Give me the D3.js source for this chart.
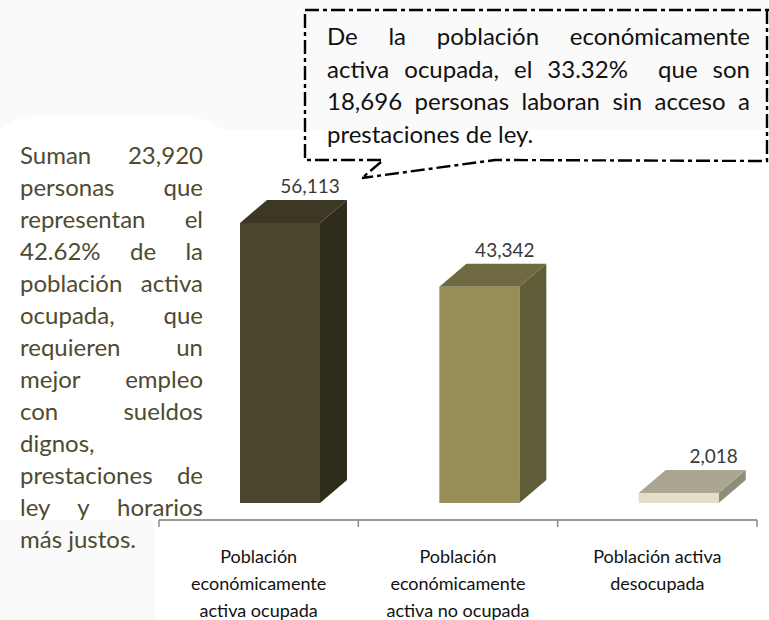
<!DOCTYPE html>
<html>
<head>
<meta charset="utf-8">
<script src="https://cdn.jsdelivr.net/npm/d3@7"></script>
<style>
  html, body { margin: 0; padding: 0; background: #fff; }
  svg { display: block; }
  text { font-family: Lato, "Open Sans", sans-serif; }
</style>
</head>
<body>
<div id="chart"></div>
<script>
// Chart values
const categories = ["ocupada", "no ocupada", "desocupada"];
const values = [56113, 43342, 2018];
const value_labels = ["56,113", "43,342", "2,018"];
const category_lines = [
  ["Población", "económicamente", "activa ocupada"],
  ["Población", "económicamente", "activa no ocupada"],
  ["Población activa", "desocupada"]
];
const front_colors = ["#4b452d", "#968d57", "#e3dec7"];
const top_colors = ["#3d3824", "#6f6a42", "#aaa692"];
const side_colors = ["#2f2c1b", "#615c38", "#8f8c77"];

// Notes around the chart
const left_note = [
  "Suman 23,920", "personas que", "representan el", "42.62% de la",
  "población activa", "ocupada, que", "requieren un", "mejor empleo",
  "con sueldos", "dignos,", "prestaciones de", "ley y horarios", "más justos."
];
const left_note_full = [true, true, true, true, true, true, true, true, true, false, true, true, false];
const box_note = [
  "De la población económicamente",
  "activa ocupada, el 33.32%  que son",
  "18,696 personas laboran sin acceso a",
  "prestaciones de ley."
];
const box_note_full = [true, true, true, false];

const width = 769, height = 620;
const svg = d3.select("#chart").append("svg")
  .attr("width", width)
  .attr("height", height);

// faint page background, the white panel behind the left note cuts into it
svg.append("rect").attr("width", width).attr("height", 130).attr("fill", "#fafafa");
svg.append("path")
  .attr("d", "M0,130Q14,116 36,116L188,116Q208,117 222,130Z")
  .attr("fill", "#fff");
svg.append("rect").attr("y", 520).attr("width", 155).attr("height", 100).attr("fill", "#fafafa");

// scales
const x = d3.scaleBand().domain(categories).range([159, 757]);
const y = d3.scaleLinear().domain([0, 56113]).range([503, 223]);

const bar_w = 80, depth_x = 27, depth_y = 23, bar_shift = 81;
// the value labels do not sit at the same spot over each bar
const label_shift = [70, 65.5, 75];

const bars = svg.selectAll("g.bar")
  .data(values)
  .join("g")
  .attr("class", "bar")
  .attr("transform", (d, i) => `translate(${x(categories[i]) + bar_shift},0)`);

// right side of the box
bars.append("path")
  .attr("d", d => `M${bar_w},${y(d)}L${bar_w + depth_x},${y(d) - depth_y}L${bar_w + depth_x},${y(0) - depth_y}L${bar_w},${y(0)}Z`)
  .attr("fill", (d, i) => side_colors[i]);
// top of the box
bars.append("path")
  .attr("d", d => `M0,${y(d)}L${depth_x},${y(d) - depth_y}L${bar_w + depth_x},${y(d) - depth_y}L${bar_w},${y(d)}Z`)
  .attr("fill", (d, i) => top_colors[i]);
// front
bars.append("rect")
  .attr("y", d => y(d))
  .attr("width", bar_w)
  .attr("height", d => y(0) - y(d))
  .attr("fill", (d, i) => front_colors[i]);

bars.append("text")
  .attr("x", (d, i) => label_shift[i])
  .attr("y", d => y(d) - depth_y - 7)
  .attr("text-anchor", "middle")
  .attr("font-size", 19)
  .attr("fill", "#3a3a3a")
  .text((d, i) => value_labels[i]);

// axis
const axis_g = svg.append("g").attr("transform", "translate(0,520)");
axis_g.append("line").attr("x1", 159).attr("x2", 757).attr("stroke", "#9a9a9a").attr("stroke-width", 2);
axis_g.selectAll("line.tick")
  .data(categories.map(c => x(c)).concat([x.range()[1]]))
  .join("line")
  .attr("class", "tick")
  .attr("x1", d => d).attr("x2", d => d)
  .attr("y1", 0).attr("y2", 7)
  .attr("stroke", "#8a8a8a").attr("stroke-width", 1.5);

// category labels
category_lines.forEach(function(lines, i) {
  svg.append("text")
    .attr("text-anchor", "middle")
    .attr("font-size", 18)
    .attr("fill", "#111")
    .selectAll("tspan")
    .data(lines)
    .join("tspan")
    .attr("x", x(categories[i]) + x.bandwidth() / 2)
    .attr("y", (d, j) => 563 + j * 27)
    .text(d => d);
});

// draw lines of text, spreading the words out to fill the column
function justified(lines, full, x0, w, y0, pitch, size, color) {
  lines.forEach(function(line, i) {
    const t = svg.append("text")
      .attr("x", x0)
      .attr("y", y0 + i * pitch)
      .attr("font-size", size)
      .attr("fill", color)
      .attr("xml:space", "preserve")
      .text(line);
    const gaps = line.split(" ").length - 1;
    if (full[i] && gaps > 0) {
      t.attr("word-spacing", (w - t.node().getComputedTextLength()) / gaps);
    }
  });
}

justified(left_note, left_note_full, 20, 183, 164, 32, 24, "#4f4a30");
justified(box_note, box_note_full, 327, 423, 45, 32.5, 24, "#111");

// callout outline
const callout = d3.path();
callout.moveTo(305, 10);
callout.lineTo(769, 10);
callout.moveTo(767, 10);
callout.lineTo(767, 161);
callout.lineTo(495, 160);
callout.lineTo(362, 178);
callout.moveTo(381, 162);
callout.lineTo(362, 178);
callout.moveTo(381, 160);
callout.lineTo(305, 160);
callout.lineTo(305, 10);
svg.append("path")
  .attr("d", callout.toString())
  .attr("fill", "none")
  .attr("stroke", "#000")
  .attr("stroke-width", 2.4)
  .attr("stroke-dasharray", "14 4 4 4");
</script>
</body>
</html>
